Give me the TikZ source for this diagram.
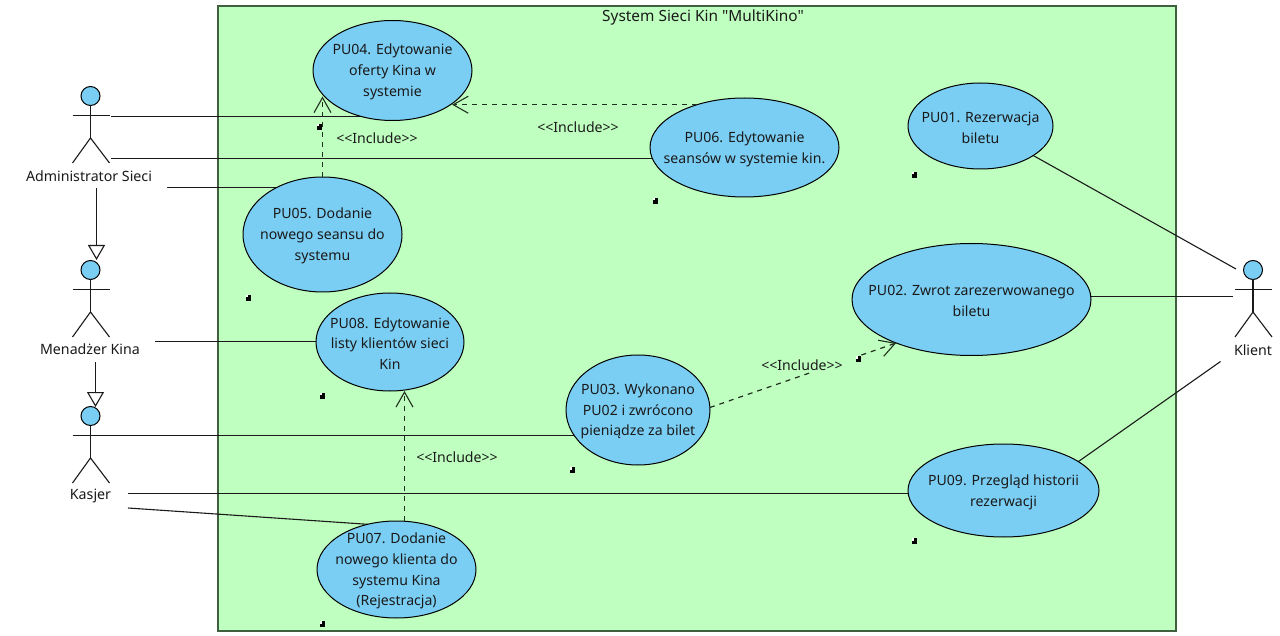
\documentclass[tikz,border=0pt]{standalone}
\usepackage{fontspec}
\setmainfont{Noto Sans}
\newfontfamily\rawf{Noto Sans}
\usetikzlibrary{shapes.geometric,arrows.meta,calc}
\definecolor{sysfill}{HTML}{BFFFBF}
\definecolor{sysedge}{HTML}{3F5F3F}
\definecolor{ucfill}{HTML}{7ACEF4}
\definecolor{ink}{HTML}{1A1A1A}
\newcommand{\ucdrop}{\rule{0pt}{13.7pt}}
\tikzset{
  uc/.style={ellipse,draw=black,fill=ucfill,line width=1pt,inner sep=-30pt,outer sep=0pt,
    minimum width=2*#1,align=center,font=\fontsize{14.1}{20.7}\selectfont,text=ink},
  lbl/.style={inner sep=0pt,text=ink,font=\fontsize{14.2}{16}\selectfont},
  inc/.style={inner sep=0pt,text=ink,font=\rawf\fontsize{14.1}{16}\selectfont},
  titletext/.style={inner sep=0pt,text=ink,font=\rawf\fontsize{15.4}{18}\selectfont},
  assoc/.style={draw=ink,line width=1.1pt},
  inclplain/.style={draw=sysedge!50!black,line width=1.2pt,dash pattern=on 5pt off 5pt},
  incl/.style={inclplain,-{Straight Barb[length=15pt,width=17pt,line width=1.1pt]}},
  gen/.style={draw=ink,line width=1.1pt,-{Triangle[open,length=15pt,width=17pt,line width=1.1pt]}},
  head/.style={circle,draw=black,fill=ucfill,line width=1pt,inner sep=0pt,minimum size=19pt,outer sep=0pt},
  limb/.style={draw=ink,line width=1.1pt},
  docicon/.style={rectangle,fill=black,inner sep=0pt,minimum width=5pt,minimum height=6pt,
    path picture={\fill[white] (path picture bounding box.north west) rectangle ++(2.5pt,-2.5pt);}},
}
\newcommand{\actorfig}[3]{%
  \node[head] (#1) at (#2,#3) {};
  \draw[limb] (#1.south) -- ++(0,32.5) coordinate (#1c);
  \draw[limb] ($(#1c)+(-18,25)$) -- (#1c) -- ($(#1c)+(19,25)$);
  \draw[limb] (#2-18,#3+19.5) -- (#2+19,#3+19.5);
}
\begin{document}
\begin{tikzpicture}[x=1pt,y=-1pt]
\useasboundingbox (0,0) rectangle (1280,636);
\fill[white] (0,0) rectangle (1280,636);
\node[draw=sysedge,fill=sysfill,line width=1.5pt,minimum width=958pt,minimum height=625pt,inner sep=0pt,outer sep=0pt] (sys) at (697,318.5) {};
\node[titletext] (title) at (703,17) {System Sieci Kin "MultiKino"};

% free ends of the connectors, next to the actors
\coordinate (a1) at (111,116.5);
\coordinate (a2) at (111,158.5);
\coordinate (a3) at (167,187.5);
\coordinate (m1) at (155,341.5);
\coordinate (k1) at (110,435.5);
\coordinate (k2) at (128,493.5);
\coordinate (k3) at (128,508);
\coordinate (c1) at (1236,269);
\coordinate (c2) at (1233,296.5);
\coordinate (c3) at (1220.5,361.5);
\coordinate (g1) at (96.5,188);
\coordinate (g1t) at (96.5,260);
\coordinate (g2) at (95.5,362);
\coordinate (g2t) at (95.5,407);
\coordinate (i7) at (404.5,521);

% centres of the use cases and hidden ends of the slanted lines
\coordinate (pu04c) at (392.5,70.5);
\coordinate (pu05c) at (322.5,234.5);
\coordinate (pu06c) at (744.5,147.5);
\coordinate (pu01c) at (980.5,126);
\coordinate (pu02c) at (971.5,299.5);
\coordinate (pu08c) at (390,342);
\coordinate (pu03c) at (638,410);
\coordinate (pu07c) at (396.5,569.5);
\coordinate (pu09c) at (1003.5,490.5);
\coordinate (pu07h) at (372,524.6);
\coordinate (pu09h) at (1060,474.5);

% plain associations, drawn first so that the use cases cover their ends
\draw[assoc] (a1) -- (a1 -| pu04c);
\draw[assoc] (a2) -- (a2 -| pu06c);
\draw[assoc] (a3) -- (a3 -| pu05c);
\draw[assoc] (m1) -- (m1 -| pu08c);
\draw[assoc] (k1) -- (k1 -| pu03c);
\draw[assoc] (k2) -- (k2 -| pu09c);
\draw[assoc] (k3) -- (pu07h);
\draw[assoc] (c1) -- (pu01c);
\draw[assoc] (c2) -- (c2 -| pu02c);
\draw[assoc] (c3) -- (pu09h);

% use cases
\node[uc=79.5pt,minimum height=100pt] (pu04) at (pu04c) {\ucdrop PU04. Edytowanie\\oferty Kina w\\systemie};
\node[uc=79.5pt,minimum height=115pt] (pu05) at (pu05c) {\ucdrop PU05. Dodanie\\nowego seansu do\\systemu};
\node[uc=94.5pt,minimum height=99pt] (pu06) at (pu06c) {\ucdrop PU06. Edytowanie\\seansów w systemie kin.};
\node[uc=72.5pt,minimum height=86pt] (pu01) at (pu01c) {\ucdrop PU01. Rezerwacja\\biletu};
\node[uc=119.5pt,minimum height=112pt] (pu02) at (pu02c) {\ucdrop PU02. Zwrot zarezerwowanego\\biletu};
\node[uc=74pt,minimum height=98pt] (pu08) at (pu08c) {\ucdrop PU08. Edytowanie\\listy klientów sieci\\Kin};
\node[uc=72pt,minimum height=110pt] (pu03) at (pu03c) {\ucdrop PU03. Wykonano\\PU02 i zwrócono\\pieniądze za bilet};
\node[uc=79.5pt,minimum height=97pt] (pu07) at (pu07c) {\ucdrop PU07. Dodanie\\nowego klienta do\\systemu Kina\\(Rejestracja)};
\node[uc=95.5pt,minimum height=93pt] (pu09) at (pu09c) {\ucdrop PU09. Przegląd historii\\rezerwacji};

% include relations
\draw[incl] (pu05.north) -- (pu05.north |- pu04.201);
\draw[incl] (pu06.138) -- (pu04.331 |- pu06.138);
\draw[incl] (i7 |- pu07.north) -- (i7 |- pu08.south);
\draw[inclplain] (pu03.2) -- ($(pu03.2)!0.535!(pu02.210)$);
\draw[incl] ($(pu03.2)!0.813!(pu02.210)$) -- (pu02.210);

\node[inc] (i1) at (377,138) {<<Include>>};
\node[inc] (i2) at (578,127) {<<Include>>};
\node[inc] (i3) at (802,365) {<<Include>>};
\node[inc] (i4) at (457,457) {<<Include>>};

% generalisations
\draw[gen] (g1) -- (g1t);
\draw[gen] (g2) -- (g2t);

% actors
\actorfig{admin}{90.5}{96}
\actorfig{mgr}{90.5}{270}
\actorfig{kas}{90.5}{416}
\actorfig{kli}{1253}{270}
\node[lbl] (adminl) at (89,176) {Administrator Sieci};
\node[lbl] (mgrl) at (90,349.5) {Menadżer Kina};
\node[lbl] (kasl) at (90.5,496) {Kasjer};
\node[lbl] (klil) at (1253,350) {Klient};

% note icons
\node[docicon] (d1) at (319,127) {};
\node[docicon] (d2) at (248,298) {};
\node[docicon] (d3) at (655,201) {};
\node[docicon] (d4) at (914,175) {};
\node[docicon] (d5) at (322,395.5) {};
\node[docicon] (d6) at (572,470) {};
\node[docicon] (d7) at (322,624) {};
\node[docicon] (d8) at (858,359) {};
\node[docicon] (d9) at (914,541) {};
\end{tikzpicture}
\end{document}
